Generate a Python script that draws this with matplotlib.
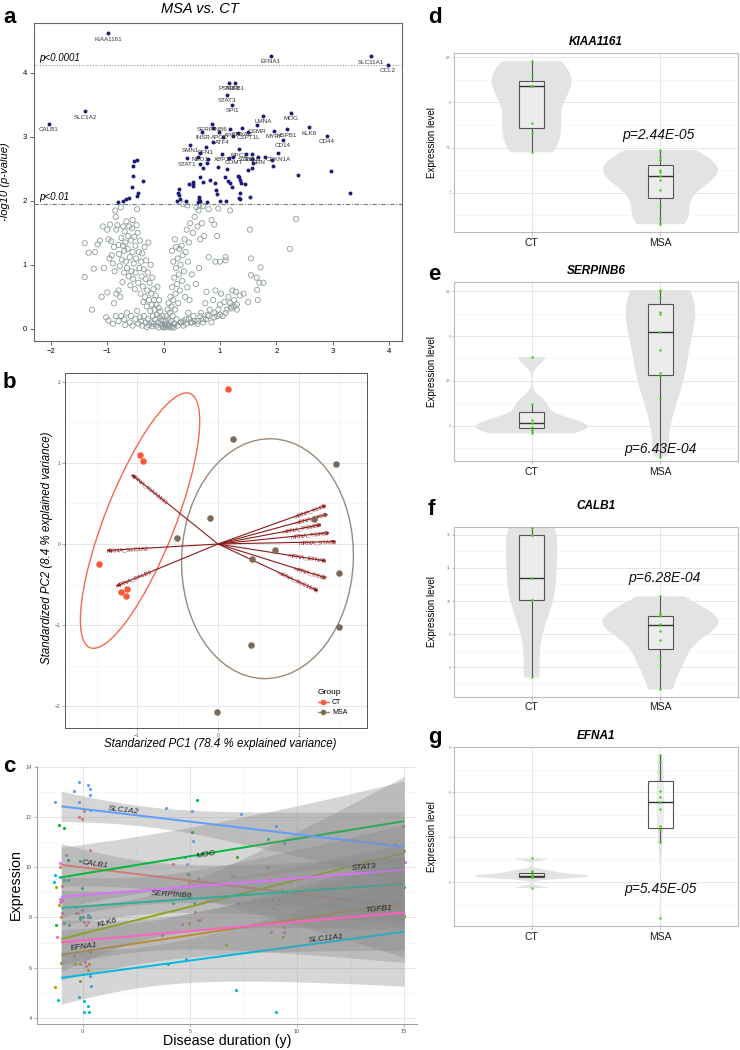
import numpy as np
import matplotlib
matplotlib.use("Agg")
import matplotlib.pyplot as plt
from matplotlib.patches import Ellipse
from matplotlib.lines import Line2D

plt.rcParams["font.family"] = ["Liberation Sans", "DejaVu Sans"]

# ======================= Panel a : volcano =======================
gray_pts = [
    (-1.4, 1.34), (-1.33, 1.19), (-1.4, 0.81), (-1.27, 0.3), (-1.24, 0.94), (-1.22, 1.2), (-1.17, 1.32),
    (-1.13, 1.38), (-1.1, 0.5), (-1.08, 1.6), (-1.06, 0.95), (-1.0, 1.55), (-1.0, 0.57), (-0.98, 1.4),
    (-0.96, 1.1), (-0.95, 1.63), (-0.93, 1.37), (-0.92, 1.15), (-0.9, 1.02), (-0.88, 1.28), (-0.87, 0.9),
    (-0.86, 1.85), (-0.85, 1.75), (-0.84, 1.55), (-0.82, 1.62), (-0.8, 1.31), (-0.8, 0.6), (-0.79, 1.17),
    (-0.78, 0.98), (-0.76, 1.9), (-0.75, 1.42), (-0.74, 1.08), (-0.73, 0.73), (-0.72, 1.3), (-0.72, 1.6),
    (-0.7, 1.22), (-0.7, 0.88), (-0.69, 1.52), (-0.68, 1.35), (-0.67, 1.05), (-0.66, 1.68), (-0.65, 0.95),
    (-0.64, 1.25), (-0.63, 1.45), (-0.62, 0.82), (-0.61, 1.6), (-0.6, 1.12), (-0.59, 0.68), (-0.58, 1.38),
    (-0.57, 0.9), (-0.56, 1.57), (-0.55, 1.7), (-0.55, 1.2), (-0.54, 0.78), (-0.53, 1.02), (-0.52, 1.44),
    (-0.51, 0.62), (-0.5, 1.3), (-0.5, 0.88), (-0.49, 1.1), (-0.48, 1.62), (-0.47, 1.87), (-0.46, 1.5),
    (-0.45, 0.72), (-0.44, 1.2), (-0.43, 0.95), (-0.42, 1.38), (-0.41, 0.55), (-0.4, 1.05), (-0.39, 0.82),
    (-0.38, 1.18), (-0.37, 0.66), (-0.36, 0.42), (-0.35, 0.93), (-0.34, 1.28), (-0.33, 0.5), (-0.32, 0.78),
    (-0.31, 1.07), (-0.3, 0.35), (-0.29, 0.6), (-0.28, 0.88), (-0.27, 1.35), (-0.26, 0.45), (-0.25, 0.72),
    (-0.24, 0.28), (-0.23, 1.0), (-0.22, 0.55), (-0.21, 0.38), (-0.2, 0.8), (-0.19, 0.2), (-0.18, 0.62),
    (-0.17, 0.45), (-0.16, 0.3), (-0.15, 0.15), (-0.14, 0.52), (-0.13, 0.38), (-0.12, 0.22), (-0.11, 0.66),
    (-0.1, 0.1), (-0.09, 0.33), (-0.08, 0.45), (-0.07, 0.18), (-0.06, 0.27), (-0.05, 0.08), (-0.04, 0.14),
    (-0.03, 0.05), (-0.02, 0.2), (-0.01, 0.03),
    (-1.02, 0.18), (-0.98, 0.13), (-0.9, 0.08), (-0.85, 0.2), (-0.8, 0.12), (-0.75, 0.2), (-0.7, 0.15),
    (-0.68, 0.06), (-0.65, 0.25), (-0.6, 0.1), (-0.58, 0.2), (-0.55, 0.05), (-0.5, 0.15), (-0.47, 0.28),
    (-0.45, 0.08), (-0.42, 0.18), (-0.4, 0.12), (-0.38, 0.05), (-0.35, 0.2), (-0.32, 0.1), (-0.3, 0.03),
    (-0.28, 0.15), (-0.26, 0.06), (-0.22, 0.1), (-0.2, 0.04), (-0.18, 0.08), (-0.13, 0.05), (-0.09, 0.02),
    (-0.84, 0.55), (-0.77, 0.5), (-0.88, 0.4),
    (0.01, 0.02), (0.02, 0.06), (0.03, 0.12), (0.04, 0.03), (0.05, 0.2), (0.06, 0.08), (0.07, 0.3),
    (0.08, 0.15), (0.09, 0.4), (0.1, 0.05), (0.11, 0.25), (0.12, 0.5), (0.13, 0.12), (0.14, 0.35),
    (0.15, 0.65), (0.16, 0.2), (0.17, 0.45), (0.18, 0.08), (0.19, 0.8), (0.2, 0.3), (0.21, 0.55),
    (0.22, 0.95), (0.23, 0.15), (0.24, 0.7), (0.25, 1.1), (0.26, 0.4), (0.27, 0.85), (0.28, 1.25),
    (0.29, 0.6), (0.3, 1.0), (0.31, 0.1), (0.32, 1.3), (0.33, 0.75), (0.34, 1.15), (0.35, 0.05),
    (0.36, 0.9), (0.37, 1.4), (0.38, 0.5), (0.39, 1.2), (0.4, 0.15), (0.41, 1.55), (0.42, 0.65),
    (0.43, 1.05), (0.44, 0.25), (0.45, 1.35), (0.46, 0.45), (0.47, 1.65), (0.48, 0.1), (0.5, 0.85),
    (0.52, 1.5), (0.53, 0.2), (0.55, 1.75), (0.57, 0.7), (0.58, 1.9), (0.6, 1.6), (0.6, 0.12),
    (0.62, 1.85), (0.63, 0.95), (0.65, 1.4), (0.66, 0.25), (0.68, 1.65), (0.7, 0.15), (0.72, 1.45),
    (0.74, 0.4), (0.76, 0.58), (0.78, 0.22), (0.8, 1.12), (0.82, 0.3), (0.85, 1.7), (0.88, 0.45),
    (0.9, 0.18), (0.92, 0.6), (0.95, 1.45), (0.97, 0.3), (1.0, 0.38), (1.02, 0.55), (1.05, 0.2),
    (1.08, 0.42), (1.1, 1.12), (1.12, 0.3), (1.15, 0.5), (1.18, 0.4), (1.2, 0.35), (1.22, 0.6),
    (1.25, 0.45), (1.28, 0.58), (1.3, 0.3), (1.35, 0.52), (1.42, 0.55), (1.5, 0.42), (1.53, 1.55),
    (1.55, 1.1), (1.55, 0.84), (1.65, 0.8), (1.66, 0.61), (1.67, 0.45), (1.7, 0.72), (1.72, 0.96),
    (1.77, 0.72), (2.24, 1.25), (2.35, 1.72), (1.1, 1.07), (1.18, 1.85), (0.9, 1.63), (0.92, 1.05),
    (0.35, 1.95), (0.42, 1.93), (0.63, 1.93), (0.7, 1.92), (0.8, 1.87), (0.97, 1.88),
    (1.0, 1.05), (0.2, 1.4), (0.15, 1.22), (0.17, 1.05), (0.22, 1.28),
    (0.2, 0.08), (0.25, 0.05), (0.3, 0.1), (0.35, 0.12), (0.4, 0.08), (0.45, 0.15), (0.5, 0.1),
    (0.55, 0.12), (0.6, 0.08), (0.65, 0.2), (0.7, 0.1), (0.75, 0.15), (0.8, 0.2), (0.85, 0.1),
    (0.9, 0.25), (0.95, 0.2), (1.0, 0.22), (1.1, 0.25), (1.2, 0.32), (1.25, 0.35), (1.3, 0.38),
    (0.12, 0.02), (0.08, 0.04), (0.15, 0.03), (0.18, 0.02),
]
gray_fc = [p[0] for p in gray_pts]
gray_lp = [p[1] for p in gray_pts]

sig_fc = [0.882, 1.237, 1.325, 0.882, 0.617, 1.166, 1.798, 1.916, 1.946, 1.574, 1.591, 1.562,
          0.646, 0.764, 0.794, 0.971, 1.119, -0.523, -0.464, -0.535, -0.535, -0.370, -0.565, -0.458,
          -0.476, -0.801, -0.712, -0.665, -0.612, 0.274, 0.262, 0.274, 0.233, 0.398, 0.292, 0.457,
          0.528, 0.528, 0.516, 0.634, 0.623, 0.646, 0.617, 0.764, 0.646, 0.705, 0.823, 0.912, 0.930,
          0.953, 1.001, 1.101, 1.089, 1.136, 1.178, 1.219, 1.343, 1.355, 1.367, 1.355, 1.343, 1.355,
          1.438, 1.532, 0.693, 2.377, 2.979, 3.304, 1.325, 1.503]
sig_lp = [3.135, 3.016, 3.057, 2.927, 2.693, 2.667, 2.693, 2.641, 2.547, 2.656, 2.589, 2.510,
          2.573, 2.589, 2.651, 2.536, 2.495, 2.625, 2.641, 2.547, 2.391, 2.318, 2.214, 2.130,
          2.078, 1.984, 1.995, 2.026, 2.052, 2.188, 2.120, 2.094, 2.005, 2.000, 2.026, 2.260,
          2.302, 2.271, 2.240, 2.068, 2.026, 2.000, 1.984, 1.984, 2.380, 2.302, 2.328, 2.286, 2.172,
          2.104, 2.005, 2.000, 2.380, 2.318, 2.286, 2.224, 2.380, 2.328, 2.276, 2.130, 2.052, 2.026,
          2.260, 2.068, 2.510, 2.406, 2.469, 2.120, 2.396, 2.484]

lab_genes = ["KIAA1161", "EFNA1", "SLC11A1", "CCL2", "CALB1", "SLC1A2", "PSMB8", "TGFB1", "STAT3",
             "SPI1", "MOG", "LMNA", "KLK6", "CD44", "OSMR", "MYRF", "HSPB1", "CD14", "CDKN1A",
             "SERPINB6", "INSR", "APOE", "APP", "CRYAB", "CSPT1L", "ATF4", "PFN1", "SMN1", "NEO1",
             "NPC1", "STAT1", "XBP1", "COMT", "SOD1", "GNAI1", "GRN"]
lab_fc = [-0.99, 1.90, 3.68, 3.98, -2.04, -1.39, 1.154, 1.272, 1.125,
          1.219, 2.259, 1.768, 2.578, 2.891, 1.656, 1.957, 2.182, 2.111, 2.034,
          0.865, 0.688, 0.989, 1.178, 1.385, 1.503, 1.048, 0.747, 0.469, 0.646,
          1.337, 0.410, 1.030, 1.237, 1.461, 1.562, 1.680]
lab_lp = [4.62, 4.27, 4.26, 4.13, 3.20, 3.40, 3.84, 3.84, 3.656,
          3.50, 3.38, 3.328, 3.151, 3.016, 3.182, 3.094, 3.12, 2.953, 2.745,
          3.20, 3.08, 3.08, 3.12, 3.135, 3.08, 3.005, 2.849, 2.875, 2.745,
          2.807, 2.667, 2.734, 2.693, 2.734, 2.734, 2.693]
thr_strict = 4.125
thr_loose = 1.95

# ======================= Panel b : PCA biplot =======================
ct_pc1 = [0.12, -0.965, -0.93, -1.47, -1.20, -1.12, -1.14]
ct_pc2 = [1.91, 1.10, 1.02, -0.25, -0.59, -0.56, -0.64]
msa_pc1 = [0.19, 1.46, -0.10, -0.51, 1.18, 0.70, 0.42, 1.50, 1.49, 0.41, -0.01]
msa_pc2 = [1.30, 0.99, 0.32, 0.07, 0.31, -0.07, -0.18, -0.36, -1.02, -1.25, -2.07]
load_genes = ["KIAA1161", "SLC1A2", "CALB1", "KLK6", "MOG", "PSMB8", "TGFB1", "STAT3", "EFNA1",
              "CCL2", "SLC11A1"]
load_pc1 = [-1.07, -1.38, -1.26, 1.34, 1.36, 1.28, 1.38, 1.46, 1.34, 1.34, 1.24]
load_pc2 = [0.86, -0.08, -0.52, 0.48, 0.37, 0.24, 0.14, 0.03, -0.21, -0.42, -0.58]
# ellipse: centre x, centre y, major, minor, angle(deg)
ct_ellipse = (-0.963, 0.289, 3.37, 0.864, 68.5)
msa_ellipse = (0.611, -0.181, 2.96, 2.12, 87.5)

# ======================= Panel c : expression vs duration =======================
c_genes = ["CALB1", "EFNA1", "KLK6", "MOG", "SERPINB6", "SLC11A1", "SLC1A2", "STAT3", "TGFB1"]
c_colors = ["#F8766D", "#D39200", "#93AA00", "#00BA38", "#00C19F", "#00B9E3", "#619CFF", "#DB72FB",
            "#FF61C3"]
fit_x = [-1.0, 15.0]
fit_start = [10.10, 6.51, 7.14, 9.60, 8.38, 5.59, 12.43, 8.82, 7.01]
fit_end = [8.42, 8.59, 10.57, 11.84, 9.34, 7.43, 10.81, 9.90, 8.20]
ci_left = [0.85, 1.0, 1.3, 1.2, 0.7, 1.05, 0.6, 0.8, 0.9]
ci_right = [2.0, 1.9, 3.05, 1.6, 1.6, 2.17, 1.4, 1.8, 2.0]
ci_centre = 3.0

pts_CALB1 = [(0.08, 12.24), (-0.19, 11.99), (-0.03, 11.93), (0.36, 10.68), (4.20, 10.13), (-1.04, 10.0),
             (5.38, 9.57), (6.97, 9.66), (8.68, 9.54), (9.27, 9.55), (-0.96, 9.25), (8.91, 8.39),
             (14.99, 8.05), (0.05, 7.83), (0.16, 7.70)]
pts_EFNA1 = [(-1.28, 5.24), (-1.12, 8.49), (-1.0, 8.03), (-0.26, 6.62), (-0.37, 6.16), (-0.12, 6.13),
             (0.30, 6.14), (0.23, 5.89), (3.72, 7.29), (4.98, 7.79), (5.40, 7.89), (6.69, 6.89),
             (9.36, 7.20), (14.99, 8.05)]
pts_KLK6 = [(-1.01, 6.18), (-0.11, 5.46), (4.96, 9.45), (8.82, 8.71), (9.30, 9.08), (9.38, 7.63),
            (-0.68, 10.30), (-1.23, 9.21), (0.36, 6.64), (14.99, 10.66)]
pts_MOG = [(5.33, 12.68), (-1.10, 11.67), (-0.86, 11.55), (5.12, 11.42), (8.63, 11.12), (7.20, 10.43),
           (14.93, 11.66), (-0.14, 10.26), (-0.67, 10.29), (4.93, 9.74), (-1.23, 7.70), (-0.67, 9.51),
           (-0.03, 9.17), (-0.14, 8.03), (0.26, 8.03)]
pts_SERPINB6 = [(-0.89, 9.50), (0.02, 8.03), (0.23, 8.09), (0.36, 8.0), (-0.11, 7.95), (4.20, 8.58),
                (5.21, 8.58), (7.25, 8.57), (8.65, 10.0), (9.11, 8.75), (-1.07, 9.61), (-0.62, 7.70),
                (14.99, 9.21)]
pts_SLC11A1 = [(-1.28, 9.68), (-1.35, 9.42), (-0.89, 7.76), (0.36, 5.66), (0.37, 5.26), (-0.17, 4.83),
               (0.08, 4.67), (0.25, 4.45), (0.08, 4.24), (0.31, 4.24), (-1.17, 4.70), (4.84, 6.34),
               (3.98, 6.14), (7.17, 5.11), (9.00, 4.24), (9.41, 7.41)]
pts_SLC1A2 = [(-0.19, 13.42), (-0.39, 13.05), (0.23, 13.29), (0.33, 13.12), (0.33, 12.89), (-1.28, 12.59),
              (-0.17, 12.59), (0.33, 12.30), (3.89, 12.37), (5.10, 12.24), (7.39, 12.11), (9.04, 11.66),
              (9.41, 10.95), (14.59, 10.92), (4.79, 10.43), (-0.78, 10.51), (5.15, 11.03)]
pts_STAT3 = [(-1.04, 10.16), (4.87, 10.13), (15.02, 10.22), (-0.30, 8.42), (-0.02, 8.29), (-0.23, 8.16),
             (-0.95, 8.68), (4.25, 9.05), (7.12, 9.64), (9.69, 9.41), (-1.04, 8.75), (0.23, 8.05)]
pts_TGFB1 = [(-1.20, 7.22), (-1.04, 8.62), (-0.96, 8.16), (4.63, 7.72), (5.26, 8.20), (5.46, 7.90),
             (8.79, 7.42), (9.41, 7.41), (0.25, 7.83), (-0.30, 8.16), (-0.39, 6.45), (0.12, 6.21),
             (0.14, 6.05)]
c_points = [pts_CALB1, pts_EFNA1, pts_KLK6, pts_MOG, pts_SERPINB6, pts_SLC11A1, pts_SLC1A2, pts_STAT3,
            pts_TGFB1]
c_label_x = [0.59, 0.05, 1.17, 5.75, 4.14, 11.37, 1.91, 13.14, 13.8]
c_label_y = [10.13, 6.82, 7.79, 10.49, 8.88, 7.17, 12.28, 10.0, 8.33]
c_label_rot = [-8, 7, 15, 10, -4, 6, -7, 5, 5]

# ======================= Panels d-g : violins =======================
vio_genes = ["KIAA1161", "SERPINB6", "CALB1", "EFNA1"]
vio_letters = ["d", "e", "f", "g"]
vio_ct = [
    [7.448, 7.666, 7.769, 8.18, 8.186, 8.293, 8.456],
    [7.919, 7.956, 7.993, 8.03, 8.067, 8.248, 8.767],
    [7.7, 10.02, 10.02, 10.7, 11.98, 11.98, 12.2],
    [5.87, 6.11, 6.12, 6.15, 6.17, 6.25, 6.53],
]
vio_msa = [
    [6.651, 6.714, 6.854, 7.024, 7.138, 7.186, 7.234, 7.25, 7.36, 7.40, 7.474],
    [7.66, 8.3, 8.55, 8.585, 8.844, 9.04, 9.24, 9.27, 9.437, 9.5, 9.511],
    [7.34, 8.07, 8.32, 8.82, 9.09, 9.27, 9.3, 9.55, 9.57, 9.65, 10.14],
    [5.21, 6.89, 7.18, 7.25, 7.63, 7.79, 7.89, 8.03, 8.48, 8.68, 8.83],
]
vio_pvals = ["p=2.44E-05", "p=6.43E-04", "p=6.28E-04", "p=5.45E-05"]
vio_yticks = [[7.0, 7.5, 8.0, 8.5], [8.0, 8.5, 9.0, 9.5], [8, 9, 10, 11, 12], [6, 7, 8, 9]]
vio_ylim = [(6.56, 8.545), (7.61, 9.604), (7.12, 12.24), (5.03, 9.01)]

# ======================= layout helpers =======================
W, H = 740.0, 1050.0
fig = plt.figure(figsize=(7.4, 10.5), dpi=100)


def rect(x0, y0, x1, y1):
    return [x0 / W, 1 - y1 / H, (x1 - x0) / W, (y1 - y0) / H]


def fx(px):
    return px / W


def fy(py):
    return 1 - py / H


def letter(px, py, s):
    fig.text(fx(px), fy(py), s, fontsize=16, fontweight="bold", va="baseline", ha="left")


def gg_grid(ax, xmaj, ymaj, xmin=(), ymin=()):
    for v in xmin:
        ax.axvline(v, color="#F2F2F2", lw=0.4, zorder=0)
    for v in ymin:
        ax.axhline(v, color="#F2F2F2", lw=0.4, zorder=0)
    for v in xmaj:
        ax.axvline(v, color="#E6E6E6", lw=0.7, zorder=0)
    for v in ymaj:
        ax.axhline(v, color="#E6E6E6", lw=0.7, zorder=0)


# ======================= draw panel a =======================
axa = fig.add_axes(rect(34, 23, 402, 341))
axa.scatter(gray_fc, gray_lp, s=14, facecolors="none", edgecolors="#8d9999", linewidths=0.6, zorder=2)
axa.scatter(sig_fc, sig_lp, s=8, color="#1c1c78", zorder=3, linewidths=0)
axa.scatter(lab_fc, lab_lp, s=8, color="#1c1c78", zorder=3, linewidths=0)
for g, x, y in zip(lab_genes, lab_fc, lab_lp):
    axa.annotate(g, (x, y), xytext=(0, -4.2), textcoords="offset points", ha="center", va="center",
                 fontsize=4.5, color="#333333", zorder=4)
axa.axhline(thr_strict, color="#999999", ls=(0, (1, 1.5)), lw=0.8, zorder=1)
axa.axhline(thr_loose, color="#777777", ls=(0, (4, 1.5, 1, 1.5)), lw=0.8, zorder=1)
axa.text(-2.2, thr_strict + 0.03, "p<0.0001", style="italic", fontsize=7, va="bottom", ha="left")
axa.text(-2.2, thr_loose + 0.03, "p<0.01", style="italic", fontsize=7, va="bottom", ha="left")
axa.set_xlim(-2.30, 4.23)
axa.set_ylim(-0.19, 4.78)
axa.set_xticks(range(-2, 5))
axa.set_yticks(range(0, 5))
axa.tick_params(labelsize=5.5, length=3, width=0.6, color="#555555", pad=2)
for s in axa.spines.values():
    s.set_color("#666666")
    s.set_linewidth(0.8)
axa.set_ylabel("-log10 (p-value)", style="italic", fontsize=8)
axa.yaxis.set_label_coords((10 - 34) / 368.0, 0.5)
fig.text(fx(200), fy(9), "MSA vs. CT", style="italic", fontsize=10.5, ha="center", va="center")
letter(3, 23, "a")

# ======================= draw panel b =======================
axb = fig.add_axes(rect(65, 373, 367, 728))
gg_grid(axb, [-1, 0, 1], [-2, -1, 0, 1, 2], [-1.5, -0.5, 0.5, 1.5], [-1.5, -0.5, 0.5, 1.5])
cx, cy, cw, ch, ca = ct_ellipse
axb.add_patch(Ellipse((cx, cy), cw, ch, angle=ca, fill=False, edgecolor="#F4694E", lw=1.0, zorder=2))
mx, my, mw, mh, ma = msa_ellipse
axb.add_patch(Ellipse((mx, my), mw, mh, angle=ma, fill=False, edgecolor="#9A8A7A", lw=1.0, zorder=2))
for g, x, y in zip(load_genes, load_pc1, load_pc2):
    axb.annotate("", xy=(x, y), xytext=(0, 0),
                 arrowprops=dict(arrowstyle="->", color="#8B1A1A", lw=0.8, mutation_scale=5,
                                 shrinkA=0, shrinkB=0), zorder=3)
    ang = np.degrees(np.arctan(y / x))
    axb.text(x, y, "mRNA_" + g, rotation=ang, rotation_mode="anchor",
             ha="right" if x > 0 else "left", va="center", fontsize=4.2, color="#8B1A1A", zorder=4)
axb.scatter(ct_pc1, ct_pc2, s=22, color="#F8593B", zorder=5, linewidths=0)
axb.scatter(msa_pc1, msa_pc2, s=22, color="#7B6A58", zorder=5, linewidths=0)
axb.set_xlim(-1.89, 1.84)
axb.set_ylim(-2.27, 2.11)
axb.set_xticks([-1, 0, 1])
axb.set_yticks([-2, -1, 0, 1, 2])
axb.tick_params(labelsize=3.5, length=2, width=0.4, color="#666666", labelcolor="#555555", pad=1.5)
for s in axb.spines.values():
    s.set_color("#555555")
    s.set_linewidth(0.7)
handles = [Line2D([0], [0], color="#F4694E", marker="o", markersize=4, markerfacecolor="#F8593B",
                  markeredgewidth=0, lw=1.0),
           Line2D([0], [0], color="#9A8A7A", marker="o", markersize=4, markerfacecolor="#7B6A58",
                  markeredgewidth=0, lw=1.0)]
lg = axb.legend(handles, ["CT", "MSA"], title="Group", loc="lower left", bbox_to_anchor=(0.82, 0.02),
                frameon=False, fontsize=5, title_fontsize=6, handlelength=1.6, handletextpad=0.5,
                labelspacing=0.4, borderpad=0.2)
lg._legend_box.align = "left"
fig.text(fx(220), fy(744), "Standarized PC1 (78.4 % explained variance)", style="italic", fontsize=8.3,
         ha="center", va="center")
fig.text(fx(47), fy(548), "Standardized PC2 (8.4 % explained variance)", style="italic", fontsize=8.3,
         ha="center", va="center", rotation=90)
letter(3, 388, "b")

# ======================= draw panel c =======================
axc = fig.add_axes(rect(37, 766, 417, 1024))
gg_grid(axc, [0, 5, 10, 15], [4, 6, 8, 10, 12, 14], [-2.5, 2.5, 7.5, 12.5], [5, 7, 9, 11, 13])
for pts, col in zip(c_points, c_colors):
    axc.scatter([p[0] for p in pts], [p[1] for p in pts], s=5, color=col, linewidths=0, zorder=1)
xs = np.linspace(fit_x[0], fit_x[1], 120)
for i, (col, ys, ye, wl, wr) in enumerate(zip(c_colors, fit_start, fit_end, ci_left, ci_right)):
    k = (wr ** 2 - wl ** 2) / ((fit_x[1] - ci_centre) ** 2 - (fit_x[0] - ci_centre) ** 2)
    wmin2 = wl ** 2 - k * (fit_x[0] - ci_centre) ** 2
    hw = np.sqrt(wmin2 + k * (xs - ci_centre) ** 2)
    yl = np.interp(xs, fit_x, [ys, ye])
    axc.fill_between(xs, yl - hw, yl + hw, color="#888888", alpha=0.34, linewidth=0, zorder=2 + 2 * i)
    axc.plot(fit_x, [ys, ye], color=col, lw=1.4, zorder=3 + 2 * i, solid_capstyle="butt")
for g, x, y, r in zip(c_genes, c_label_x, c_label_y, c_label_rot):
    axc.text(x, y, g, rotation=r, style="italic", fontsize=6, ha="center", va="center", color="#222222",
             zorder=40)
axc.set_xlim(-2.13, 15.6)
axc.set_ylim(3.75, 14.04)
axc.set_xticks([0, 5, 10, 15])
axc.set_yticks([4, 6, 8, 10, 12, 14])
axc.tick_params(labelsize=4, length=2, width=0.4, color="#777777", labelcolor="#555555", pad=1.5)
for side in ["top", "right"]:
    axc.spines[side].set_visible(False)
for side in ["left", "bottom"]:
    axc.spines[side].set_color("#999999")
    axc.spines[side].set_linewidth(0.7)
fig.text(fx(227), fy(1041), "Disease duration (y)", fontsize=10.3, ha="center", va="center")
fig.text(fx(16), fy(885), "Expression", fontsize=10.3, ha="center", va="center", rotation=90)
letter(3, 772, "c")

# ======================= draw panels d-g =======================
vio_rects = [(454.3, 53.3, 737.7, 232.3), (454.3, 281.7, 737.7, 461.0),
             (454.3, 526.7, 737.7, 696.7), (454.3, 746.7, 737.7, 926.0)]
vio_widths = [(0.62, 0.89), (0.87, 0.54), (0.40, 0.90), (0.89, 0.06)]
vio_title_y = [45, 274, 509, 739]
vio_letter_y = [23, 280, 515, 743]
vio_p_pos = [(0.72, 0.544), (0.726, 0.067), (0.743, 0.696), (0.729, 0.205)]


def nrd0_factor(vals):
    v = np.asarray(vals, dtype=float)
    sd = v.std(ddof=1)
    q75, q25 = np.percentile(v, [75, 25])
    iqr = q75 - q25
    lo = min(sd, iqr / 1.34) if iqr > 0 else sd
    return 0.9 * lo * len(v) ** -0.2 / sd


for i in range(4):
    x0, y0, x1, y1 = vio_rects[i]
    ax = fig.add_axes(rect(x0, y0, x1, y1))
    yt = vio_yticks[i]
    step = yt[1] - yt[0]
    minors = [t + step / 2 for t in [yt[0] - step] + yt]
    gg_grid(ax, [1, 2], yt, [], minors)
    for pos, vals, w in zip([1, 2], [vio_ct[i], vio_msa[i]], vio_widths[i]):
        vp = ax.violinplot([vals], positions=[pos], widths=w, showextrema=False, showmedians=False,
                           bw_method=nrd0_factor(vals), points=300)
        for b in vp["bodies"]:
            b.set_facecolor("#E3E3E3")
            b.set_edgecolor("none")
            b.set_alpha(1)
            b.set_zorder(2)
    bp = ax.boxplot([vio_ct[i], vio_msa[i]], positions=[1, 2], widths=0.2, showfliers=False,
                    showcaps=False, patch_artist=True, whis=1.5,
                    boxprops=dict(facecolor=(1, 1, 1, 0.35), edgecolor="#555555", lw=0.8),
                    medianprops=dict(color="#333333", lw=1.0),
                    whiskerprops=dict(color="#555555", lw=0.8))
    for art in bp["boxes"] + bp["medians"] + bp["whiskers"]:
        art.set_zorder(3)
    ax.scatter(np.full(len(vio_ct[i]), 1.0), vio_ct[i], s=3, color="#3FCC0A", linewidths=0, zorder=4)
    ax.scatter(np.full(len(vio_msa[i]), 2.0), vio_msa[i], s=3, color="#3FCC0A", linewidths=0, zorder=4)
    ax.set_xlim(0.4, 2.6)
    ax.set_ylim(*vio_ylim[i])
    ax.set_xticks([1, 2])
    ax.set_xticklabels(["CT", "MSA"])
    ax.set_yticks(yt)
    ax.set_yticklabels([("%g" % t) for t in yt])
    ax.tick_params(axis="x", labelsize=7.5, length=2, width=0.4, color="#888888", labelcolor="#1a1a1a",
                   pad=2)
    ax.tick_params(axis="y", labelsize=2.5, length=1.5, width=0.4, color="#888888", labelcolor="#777777",
                   pad=1)
    for s in ax.spines.values():
        s.set_color("#BBBBBB")
        s.set_linewidth(0.8)
    ax.set_ylabel("Expression level", fontsize=7)
    ax.yaxis.set_label_coords((436.7 - x0) / (x1 - x0), 0.5)
    px, py = vio_p_pos[i]
    ax.text(px, py, vio_pvals[i], transform=ax.transAxes, style="italic", fontsize=10, ha="center",
            va="center", color="#111111", zorder=6)
    fig.text(fx(596), fy(vio_title_y[i]), vio_genes[i], fontsize=8.5, fontweight="bold", style="italic",
             ha="center", va="baseline")
    letter(428, vio_letter_y[i], vio_letters[i])

fig.savefig("out.png", dpi=100)
